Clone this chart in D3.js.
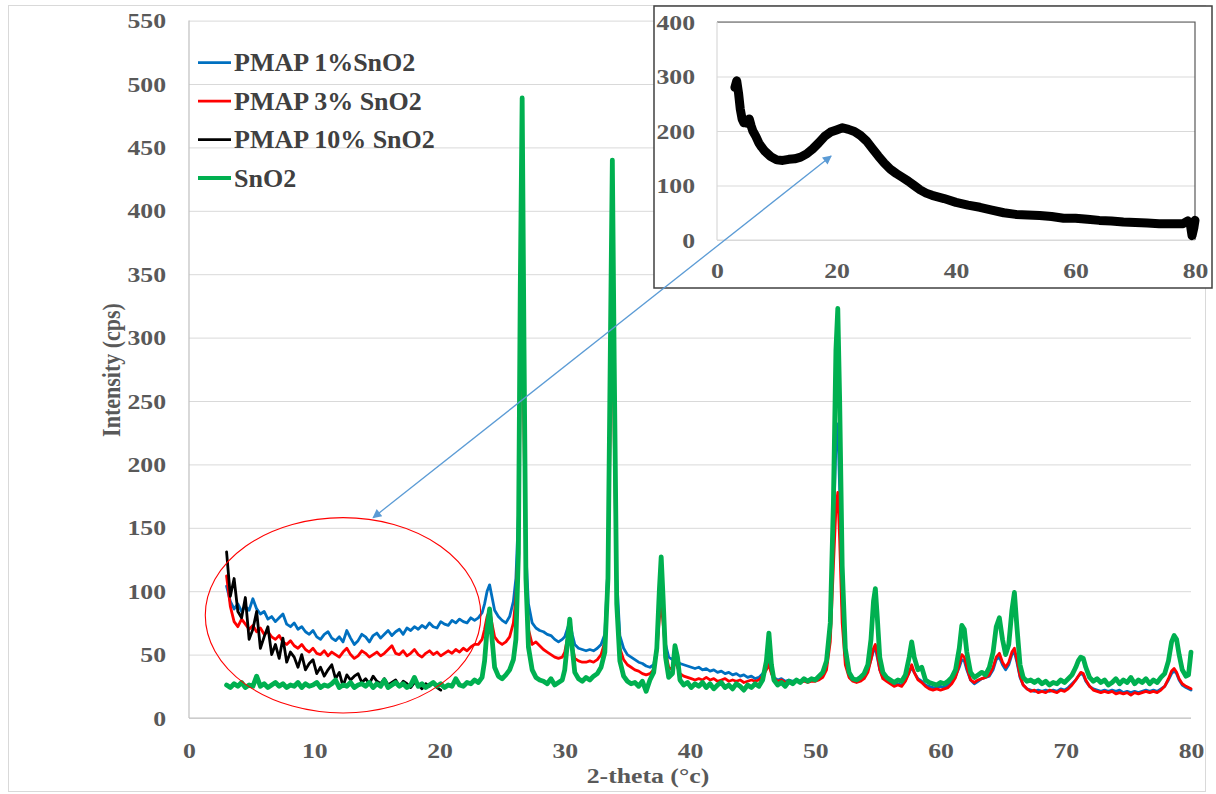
<!DOCTYPE html>
<html>
<head>
<meta charset="utf-8">
<script src="https://cdn.jsdelivr.net/npm/d3@7"></script>
<style>
  body { margin: 0; background: #fff; }
  svg { display: block; font-family: "Liberation Serif", "Times New Roman", serif; font-weight: bold; }
  .grid line { stroke: #d9d9d9; stroke-width: 1; }
  .labels text { fill: #595959; }
</style>
</head>
<body>
<svg id="chart" width="1216" height="794"></svg>
<script>
// 2-theta positions shared by the four main patterns
var twoTheta = [
  3.0,3.3,3.6,3.9,4.2,4.5,4.8,5.1,5.4,5.7,
  6.0,6.3,6.6,6.9,7.2,7.5,7.8,8.1,8.4,8.7,
  9.0,9.3,9.6,9.9,10.2,10.5,10.8,11.1,11.4,11.7,
  12.0,12.3,12.6,12.9,13.2,13.5,13.8,14.1,14.4,14.7,
  15.0,15.3,15.6,15.9,16.2,16.5,16.8,17.1,17.4,17.7,
  18.0,18.3,18.6,18.9,19.2,19.5,19.8,20.1,20.4,20.7,
  21.0,21.3,21.6,21.9,22.2,22.5,22.8,
  23.1,23.4,23.6,23.8,24.0,24.2,24.4,24.7,25.0,25.3,
  25.6,25.9,26.1,26.3,26.45,26.6,26.75,26.9,27.1,27.4,
  27.7,28.0,28.3,28.6,28.9,29.2,29.5,29.8,30.0,30.2,
  30.4,30.6,30.8,31.1,31.4,31.7,32.0,32.3,32.6,32.9,
  33.2,33.45,33.65,33.8,33.95,34.15,34.4,34.7,35.0,35.3,
  35.6,35.9,36.2,36.5,36.8,37.1,37.35,37.55,37.7,37.85,
  38.05,38.3,38.6,38.8,39.0,39.2,39.5,39.8,40.1,40.4,
  40.7,41.0,41.3,41.6,41.9,42.2,42.5,42.8,43.1,43.4,
  43.7,44.0,44.3,44.6,44.9,45.2,45.5,45.8,46.1,46.3,
  46.5,46.7,47.0,47.3,47.6,47.9,48.2,48.5,48.8,49.1,
  49.4,49.7,50.0,50.3,50.6,50.9,51.2,51.45,51.65,51.8,
  51.95,52.15,52.4,52.7,53.0,53.3,53.6,53.9,54.2,54.45,
  54.65,54.8,54.95,55.15,55.4,55.7,56.0,56.3,56.6,56.9,
  57.2,57.5,57.7,57.9,58.2,58.5,58.8,59.1,59.4,59.7,
  60.0,60.3,60.6,60.9,61.2,61.5,61.7,61.9,62.1,62.4,
  62.7,63.0,63.3,63.6,63.9,64.2,64.45,64.7,64.95,65.2,
  65.45,65.7,65.9,66.1,66.35,66.6,66.9,67.2,67.5,67.8,
  68.1,68.4,68.7,69.0,69.3,69.6,69.9,70.2,70.5,70.8,
  71.0,71.2,71.4,71.6,71.9,72.2,72.5,72.8,73.1,73.4,
  73.7,74.0,74.3,74.6,74.9,75.2,75.5,75.8,76.1,76.4,
  76.7,77.0,77.3,77.6,77.9,78.2,78.45,78.65,78.85,79.05,
  79.3,79.6,79.8,80.0
];

var pmap1 = [
  104,92,86,90,84,88,85,94,86,82,
  84,78,80,76,79,82,74,72,75,70,
  72,68,66,69,64,62,66,68,63,61,
  64,60,69,63,58,61,66,64,60,65,
  67,63,66,69,65,68,70,66,71,69,
  72,70,73,71,75,72,71,76,74,73,
  77,75,78,76,75,79,77,
  79,83,90,100,105,95,85,80,77,75,
  80,92,110,160,300,370,250,130,90,75,
  71,69,68,66,65,62,60,62,64,70,
  76,66,58,55,54,53,54,53,55,58,
  66,120,280,380,250,110,65,55,50,48,
  46,44,43,41,40,42,55,85,100,82,
  58,48,46,50,45,43,42,41,40,39,
  40,38,39,37,38,36,37,35,36,34,
  35,33,34,32,33,31,32,35,40,44,
  36,32,30,31,29,30,29,30,29,30,
  29,30,30,31,34,42,70,150,215,232,
  180,90,48,34,31,30,31,33,38,46,
  53,55,48,38,32,30,28,26,27,26,
  30,36,40,36,31,29,26,25,24,24,
  25,24,26,28,33,40,46,45,38,30,
  27,29,31,32,33,38,46,48,42,38,
  42,50,52,44,32,26,23,22,21,22,
  21,22,21,22,21,23,22,24,27,30,
  33,35,34,29,25,23,22,21,22,21,
  22,21,22,20,21,20,21,20,21,22,
  21,22,21,23,25,30,35,37,35,30,
  26,24,23,22
];

var pmap3 = [
  112,88,76,72,78,74,70,73,68,71,
  66,68,64,62,65,60,58,61,57,55,
  58,54,52,55,51,50,53,49,52,50,
  48,52,55,50,47,49,53,51,48,50,
  52,49,51,54,57,51,50,53,49,51,
  54,50,48,51,53,50,52,49,51,53,
  51,54,52,55,53,56,58,
  58,62,70,80,85,74,64,60,58,60,
  64,75,95,140,260,330,220,110,70,58,
  60,57,54,52,50,48,47,48,52,62,
  72,56,47,45,44,44,45,44,46,50,
  60,110,240,330,220,95,55,46,42,40,
  38,37,35,34,35,38,52,78,90,75,
  52,40,38,45,40,35,33,32,31,30,
  31,30,32,30,31,29,30,31,29,30,
  29,30,28,29,30,29,30,33,38,42,
  35,31,29,30,28,29,28,29,28,29,
  28,29,29,30,32,38,60,120,165,178,
  140,75,42,32,29,28,29,31,36,46,
  55,58,50,38,31,29,27,25,26,25,
  29,36,42,36,30,28,25,23,22,23,
  22,23,24,27,32,42,50,48,40,30,
  28,30,31,32,34,40,48,51,44,40,
  44,52,55,46,33,26,23,21,22,20,
  21,20,22,21,20,22,21,23,26,30,
  33,36,35,30,25,22,21,20,21,20,
  21,19,20,19,20,18,20,19,20,21,
  20,21,20,22,25,31,37,39,36,31,
  27,25,24,23
];

// PMAP 10% was only recorded up to ~20 degrees
var pmap10 = [
  131,96,110,84,79,95,62,70,84,55,
  64,72,50,58,47,63,44,52,48,40,
  50,38,43,46,35,40,33,38,42,31,
  36,25,34,30,33,35,28,31,27,33,
  29,27,31,26,28,30,25,29,27,24,
  28,26,23,27,25,28,24,22
];

var sno2 = [
  26,24,27,25,28,24,26,25,33,25,
  27,24,26,28,25,27,24,26,25,28,
  24,27,25,26,28,24,26,25,27,30,
  24,26,25,28,24,26,27,25,28,24,
  27,25,30,24,26,28,25,27,24,26,
  32,25,27,24,26,28,25,27,24,26,
  25,31,26,25,28,27,30,
  28,32,45,70,86,62,40,33,31,34,
  38,46,62,130,340,489,290,110,56,38,
  32,30,29,27,31,26,28,30,38,58,
  78,55,36,31,29,32,30,33,35,40,
  52,110,300,440,280,90,45,33,29,27,
  28,25,29,21,30,36,55,100,127,95,
  48,32,35,57,48,30,26,28,24,27,
  25,28,24,27,23,26,28,24,26,23,
  27,25,22,26,24,27,25,30,45,67,
  42,30,26,28,25,29,27,30,28,31,
  29,31,30,33,36,45,75,170,290,323,
  250,120,55,36,31,30,32,35,42,62,
  92,102,80,48,36,32,30,28,30,29,
  34,48,60,48,38,40,30,28,27,26,
  28,27,29,32,38,55,73,70,52,36,
  32,34,36,34,40,52,72,79,62,50,
  58,85,99,72,42,32,29,30,28,30,
  27,29,26,28,27,30,28,31,34,40,
  45,48,47,40,32,29,31,28,30,26,
  28,31,27,30,28,32,27,30,28,31,
  27,30,28,32,35,45,60,65,62,50,
  38,33,34,52
];

// inset: PMAP 10% SnO2 over the full range
var insetTheta = [
  3.0,3.3,3.6,3.9,4.2,4.5,4.8,5.1,5.4,5.7,
  6.0,6.5,7.0,7.5,8.0,9.0,10.0,11.0,12.0,13.0,
  14.0,15.0,16.0,17.0,18.0,19.0,20.0,21.0,22.0,23.0,
  24.0,25.0,26.0,27.0,28.0,29.0,30.0,31.0,32.0,33.0,
  34.0,35.0,36.0,38.0,40.0,42.0,44.0,46.0,48.0,50.0,
  52.0,54.0,56.0,58.0,60.0,62.0,64.0,66.0,68.0,70.0,
  72.0,74.0,76.0,78.0,78.8,79.2,79.5,79.8,80.0
];
var insetIntensity = [
  280,292,270,240,222,215,218,214,222,210,
  200,190,178,170,163,153,147,146,148,149,
  152,158,167,178,190,198,202,206,203,199,
  192,182,168,154,141,130,122,115,108,100,
  92,86,82,76,69,64,60,55,50,47,
  46,45,43,40,40,38,36,35,33,32,
  31,30,30,30,35,30,8,22,36
];

var seriesNames = ["PMAP 1%SnO2", "PMAP 3% SnO2", "PMAP 10% SnO2", "SnO2"];
var seriesColors = ["#0070c0", "#ff0000", "#000000", "#00b050"];
var seriesWidths = [2.8, 2.8, 2.8, 4.8];
var seriesValues = [pmap1, pmap3, pmap10, sno2];

var xTicks = [0, 10, 20, 30, 40, 50, 60, 70, 80];
var yTicks = [0, 50, 100, 150, 200, 250, 300, 350, 400, 450, 500, 550];
var insetXTicks = [0, 20, 40, 60, 80];
var insetYTicks = [0, 100, 200, 300, 400];

// annotation: ellipse (main units) and arrow (main -> inset units)
var ellipseCenter = [12.3, 81], ellipseRadius = [11.0, 77];
var arrowMain = [14.7, 158], arrowInset = [19.1, 154];

seriesValues.forEach(function(v, i) {
  if (v.length > twoTheta.length) console.warn("series too long", seriesNames[i]);
});

// the source picture is a bit wider than tall, so text is widened to match
var TEXT_STRETCH = 1.17;
function stretch(sel) {
  sel.each(function() {
    var t = d3.select(this);
    var tx = +t.attr("x") || 0, ty = +t.attr("y") || 0;
    t.attr("transform", "translate(" + tx + "," + ty + ") scale(" + TEXT_STRETCH + ",1) translate(" + (-tx) + "," + (-ty) + ")");
  });
}

var svg = d3.select("#chart");

// chart border
svg.append("rect")
  .attr("x", 8.5).attr("y", 5.5)
  .attr("width", 1197).attr("height", 786)
  .attr("fill", "#fff")
  .attr("stroke", "#d9d9d9");

var plot = {left: 189, top: 20.6, right: 1191, bottom: 718};
var width = plot.right - plot.left,
    height = plot.bottom - plot.top;

var x = d3.scaleLinear().domain([0, 80]).range([0, width]);
var y = d3.scaleLinear().domain([0, 550]).range([height, 0]);

var g = svg.append("g").attr("transform", "translate(" + plot.left + "," + plot.top + ")");

g.append("g")
  .attr("class", "grid")
  .call(d3.axisLeft(y).tickValues(yTicks).tickSize(-width).tickFormat(""))
  .select(".domain").remove();

g.append("g")
  .attr("class", "labels")
  .call(d3.axisLeft(y).tickValues(yTicks).tickSize(0).tickPadding(23))
  .call(function(a) { a.select(".domain").remove(); });

g.append("g")
  .attr("class", "labels")
  .attr("transform", "translate(0," + height + ")")
  .call(d3.axisBottom(x).tickValues(xTicks).tickSize(0).tickPadding(24))
  .call(function(a) { a.select(".domain").remove(); });

// axis lines
g.append("line").attr("x1", 0).attr("x2", 0).attr("y1", 0).attr("y2", height)
  .attr("stroke", "#bfbfbf").attr("stroke-width", 1.2);
g.append("line").attr("x1", 0).attr("x2", width).attr("y1", height).attr("y2", height)
  .attr("stroke", "#bfbfbf").attr("stroke-width", 1.2);

var line = d3.line()
  .x(function(d) { return x(d[0]); })
  .y(function(d) { return y(d[1]); });

seriesValues.forEach(function(vals, i) {
  var pts = vals.map(function(v, k) { return [twoTheta[k], v]; });
  g.append("path")
    .datum(pts)
    .attr("fill", "none")
    .attr("stroke", seriesColors[i])
    .attr("stroke-width", seriesWidths[i])
    .attr("stroke-linejoin", "round")
    .attr("stroke-linecap", "round")
    .attr("d", line);
});

// legend
var legend = g.append("g").attr("transform", "translate(9,42)");
seriesNames.forEach(function(name, i) {
  var row = legend.append("g").attr("transform", "translate(0," + (i * 38.5) + ")");
  row.append("line")
    .attr("x1", 0).attr("x2", 33)
    .attr("stroke", seriesColors[i])
    .attr("stroke-width", i == 3 ? 4 : 2.6);
  row.append("text")
    .attr("x", 36).attr("y", 8.5)
    .attr("fill", "#404040")
    .style("font-size", "26px")
    .text(name);
});

// red ellipse around the low-angle region
g.append("ellipse")
  .attr("cx", x(ellipseCenter[0]))
  .attr("cy", y(ellipseCenter[1]))
  .attr("rx", x(ellipseRadius[0]) - x(0))
  .attr("ry", y(0) - y(ellipseRadius[1]))
  .attr("fill", "none")
  .attr("stroke", "#ff0000")
  .attr("stroke-width", 1.1);

// axis titles
svg.append("text")
  .attr("transform", "translate(111,370) scale(" + TEXT_STRETCH + ",1) rotate(-90)")
  .attr("text-anchor", "middle")
  .attr("dy", "0.35em")
  .attr("fill", "#595959")
  .style("font-size", "22px")
  .text("Intensity  (cps)");

svg.append("text")
  .attr("class", "stretch")
  .attr("x", 648).attr("y", 783)
  .attr("text-anchor", "middle")
  .attr("fill", "#595959")
  .style("font-size", "22px")
  .text("2-theta (\u00B0c)");

// inset chart
var inset = {left: 717, top: 22, right: 1195, bottom: 240};
var iw = inset.right - inset.left, ih = inset.bottom - inset.top;
var ix = d3.scaleLinear().domain([0, 80]).range([0, iw]);
var iy = d3.scaleLinear().domain([0, 400]).range([ih, 0]);

svg.append("rect")
  .attr("x", 654).attr("y", 6)
  .attr("width", 558).attr("height", 282)
  .attr("fill", "#fff")
  .attr("stroke", "#404040")
  .attr("stroke-width", 1.5);

var ig = svg.append("g").attr("transform", "translate(" + inset.left + "," + inset.top + ")");

ig.append("g")
  .attr("class", "grid")
  .call(d3.axisLeft(iy).tickValues(insetYTicks).tickSize(-iw).tickFormat(""))
  .select(".domain").remove();

ig.append("path")
  .attr("d", "M0,0H" + iw + "V" + ih)
  .attr("fill", "none")
  .attr("stroke", "#595959")
  .attr("stroke-width", 1.2);

ig.append("line").attr("x1", 0).attr("x2", 0).attr("y1", 0).attr("y2", ih)
  .attr("stroke", "#d9d9d9").attr("stroke-width", 1.2);
ig.append("line").attr("x1", 0).attr("x2", iw).attr("y1", ih).attr("y2", ih)
  .attr("stroke", "#d9d9d9").attr("stroke-width", 1.2);

ig.append("g")
  .attr("class", "labels")
  .call(d3.axisLeft(iy).tickValues(insetYTicks).tickSize(0).tickPadding(22))
  .call(function(a) { a.select(".domain").remove(); });

ig.append("g")
  .attr("class", "labels")
  .attr("transform", "translate(0," + ih + ")")
  .call(d3.axisBottom(ix).tickValues(insetXTicks).tickSize(0).tickPadding(22))
  .call(function(a) { a.select(".domain").remove(); });

var insetLine = d3.line()
  .x(function(d) { return ix(d[0]); })
  .y(function(d) { return iy(d[1]); });

ig.append("path")
  .datum(insetTheta.map(function(t, k) { return [t, insetIntensity[k]]; }))
  .attr("fill", "none")
  .attr("stroke", "#000")
  .attr("stroke-width", 9)
  .attr("stroke-linejoin", "round")
  .attr("stroke-linecap", "round")
  .attr("d", insetLine);

// tick label font, then widen all horizontal labels
svg.selectAll(".labels").attr("font-family", null).attr("font-size", null)
  .style("font-size", "22px");
stretch(svg.selectAll(".labels text"));
stretch(svg.selectAll("text.stretch"));

// double-headed arrow linking the ellipse to the inset
var defs = svg.append("defs");
defs.append("marker")
  .attr("id", "head")
  .attr("viewBox", "0 0 10 10")
  .attr("refX", 9).attr("refY", 5)
  .attr("markerUnits", "userSpaceOnUse")
  .attr("markerWidth", 11).attr("markerHeight", 9)
  .attr("orient", "auto-start-reverse")
  .append("path")
    .attr("d", "M0,0L10,5L0,10z")
    .attr("fill", "#5b9bd5");

svg.append("line")
  .attr("x1", plot.left + x(arrowMain[0]))
  .attr("y1", plot.top + y(arrowMain[1]))
  .attr("x2", inset.left + ix(arrowInset[0]))
  .attr("y2", inset.top + iy(arrowInset[1]))
  .attr("stroke", "#5b9bd5")
  .attr("stroke-width", 1.3)
  .attr("marker-start", "url(#head)")
  .attr("marker-end", "url(#head)");
</script>
</body>
</html>
